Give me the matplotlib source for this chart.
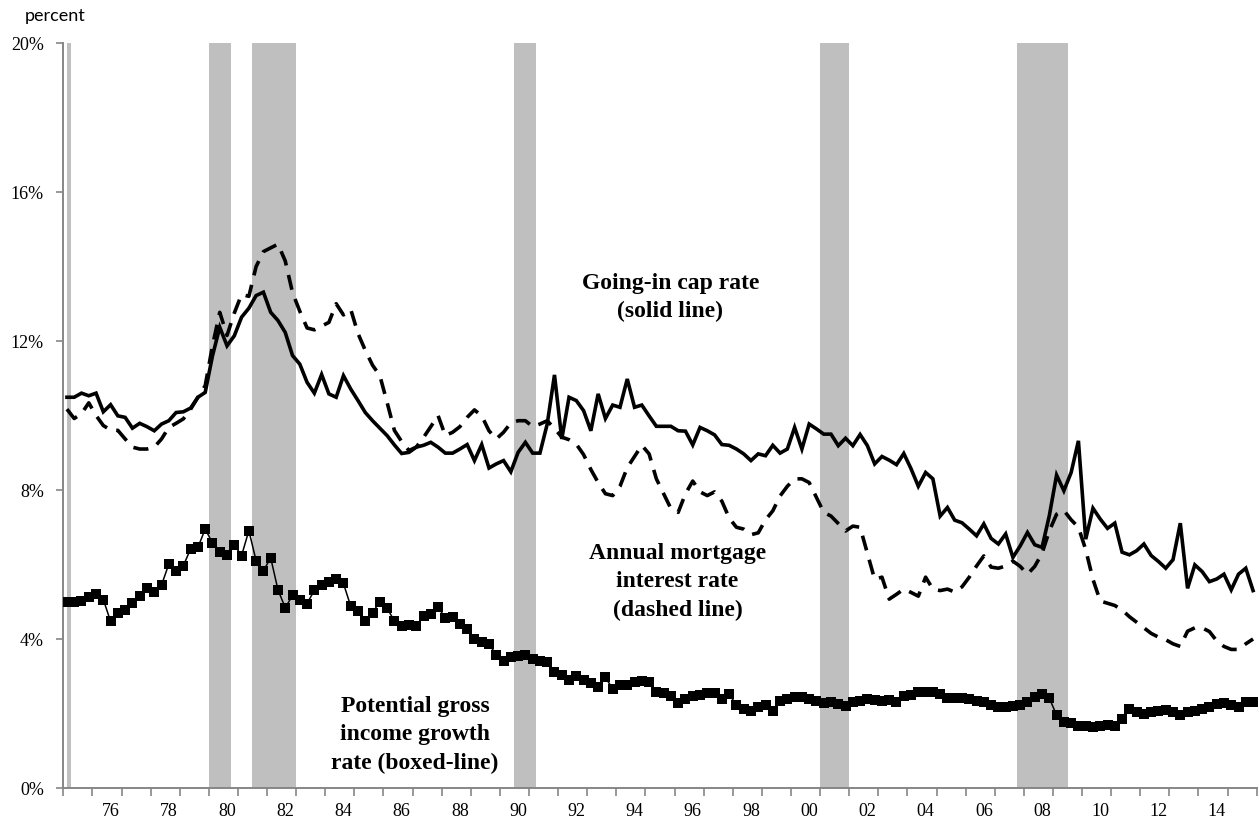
import numpy as np
import matplotlib
matplotlib.use("Agg")
import matplotlib.pyplot as plt

# quarterly series, first point = 1975Q1
start_year = 1975

cap_rate = [
    10.49, 10.49, 10.60, 10.53, 10.60, 10.10, 10.29, 9.99, 9.95, 9.66,
    9.79, 9.70, 9.59, 9.77, 9.86, 10.08, 10.10, 10.20, 10.49, 10.62,
    11.60, 12.37, 11.87, 12.14, 12.64, 12.88, 13.22, 13.31, 12.77, 12.55,
    12.23, 11.61, 11.38, 10.89, 10.60, 11.10, 10.58, 10.49, 11.07, 10.71,
    10.40, 10.08, 9.86, 9.66, 9.46, 9.21, 8.98, 9.01, 9.15, 9.20,
    9.28, 9.15, 8.99, 8.99, 9.10, 9.22, 8.79, 9.22, 8.59, 8.70,
    8.79, 8.49, 9.01, 9.28, 8.99, 8.99, 9.77, 11.09, 9.37, 10.49,
    10.40, 10.13, 9.59, 10.58, 9.92, 10.28, 10.22, 10.98, 10.22, 10.28,
    9.99, 9.71, 9.71, 9.71, 9.59, 9.58, 9.21, 9.68, 9.59, 9.48,
    9.22, 9.20, 9.10, 8.97, 8.79, 8.97, 8.92, 9.20, 8.99, 9.10,
    9.68, 9.10, 9.77, 9.64, 9.50, 9.50, 9.19, 9.39, 9.19, 9.49,
    9.19, 8.70, 8.90, 8.80, 8.68, 8.98, 8.57, 8.10, 8.47, 8.30,
    7.30, 7.53, 7.19, 7.12, 6.95, 6.77, 7.09, 6.70, 6.55, 6.82,
    6.19, 6.50, 6.86, 6.53, 6.46, 7.31, 8.40, 7.98, 8.47, 9.32,
    6.68, 7.51, 7.22, 6.97, 7.11, 6.33, 6.26, 6.37, 6.55, 6.24,
    6.08, 5.90, 6.13, 7.11, 5.36, 5.99, 5.81, 5.54, 5.61, 5.74,
    5.32, 5.74, 5.90, 5.30,
]

mortgage_rate = [
    10.17, 9.92, 10.05, 10.34, 10.00, 9.73, 9.61, 9.60, 9.37, 9.15,
    9.10, 9.10, 9.15, 9.37, 9.68, 9.79, 9.91, 10.17, 10.49, 10.80,
    11.87, 12.77, 12.15, 12.75, 13.25, 13.20, 14.00, 14.40, 14.50, 14.60,
    14.15, 13.30, 12.80, 12.35, 12.30, 12.40, 12.50, 13.00, 12.70, 12.85,
    12.20, 11.75, 11.35, 11.07, 10.35, 9.60, 9.30, 9.06, 9.15, 9.41,
    9.70, 10.00, 9.46, 9.55, 9.70, 9.95, 10.15, 9.99, 9.59, 9.37,
    9.55, 9.80, 9.86, 9.86, 9.70, 9.77, 9.86, 9.65, 9.42, 9.35,
    9.23, 8.95, 8.55, 8.20, 7.90, 7.85, 8.10, 8.60, 8.90, 9.20,
    8.97, 8.30, 7.90, 7.50, 7.40, 7.90, 8.24, 7.95, 7.85, 7.95,
    7.70, 7.25, 7.00, 6.95, 6.80, 6.85, 7.20, 7.44, 7.84, 8.10,
    8.30, 8.30, 8.20, 7.80, 7.40, 7.30, 7.10, 6.90, 7.03, 7.00,
    6.30, 5.60, 5.66, 5.07, 5.20, 5.34, 5.25, 5.15, 5.66, 5.34,
    5.30, 5.34, 5.26, 5.40, 5.66, 5.96, 6.23, 5.93, 5.90, 5.96,
    6.09, 5.95, 5.74, 5.95, 6.30, 6.90, 7.35, 7.45, 7.20, 7.00,
    6.40, 5.60, 5.02, 4.96, 4.90, 4.78, 4.60, 4.45, 4.30, 4.15,
    4.05, 3.98, 3.87, 3.80, 4.21, 4.30, 4.30, 4.20, 3.95, 3.80,
    3.72, 3.72, 3.87, 4.00,
]

pgi_growth = [
    5.00, 4.99, 5.03, 5.12, 5.21, 5.06, 4.47, 4.69, 4.79, 4.97,
    5.16, 5.37, 5.25, 5.45, 6.01, 5.83, 5.97, 6.42, 6.46, 6.95,
    6.58, 6.34, 6.26, 6.52, 6.24, 6.91, 6.10, 5.83, 6.18, 5.32,
    4.84, 5.17, 5.06, 4.95, 5.31, 5.46, 5.53, 5.61, 5.49, 4.88,
    4.74, 4.49, 4.71, 5.00, 4.82, 4.49, 4.36, 4.37, 4.36, 4.62,
    4.67, 4.85, 4.57, 4.60, 4.40, 4.27, 4.00, 3.91, 3.87, 3.57,
    3.42, 3.51, 3.54, 3.58, 3.46, 3.42, 3.39, 3.11, 3.03, 2.90,
    3.01, 2.90, 2.82, 2.72, 2.97, 2.66, 2.77, 2.77, 2.84, 2.86,
    2.84, 2.58, 2.54, 2.48, 2.28, 2.39, 2.48, 2.50, 2.55, 2.55,
    2.39, 2.52, 2.23, 2.12, 2.08, 2.17, 2.23, 2.08, 2.34, 2.39,
    2.43, 2.43, 2.39, 2.34, 2.29, 2.31, 2.26, 2.21, 2.31, 2.34,
    2.39, 2.37, 2.34, 2.37, 2.30, 2.46, 2.50, 2.59, 2.59, 2.59,
    2.52, 2.41, 2.41, 2.41, 2.39, 2.34, 2.30, 2.23, 2.17, 2.17,
    2.19, 2.23, 2.31, 2.43, 2.52, 2.41, 1.96, 1.78, 1.75, 1.67,
    1.66, 1.63, 1.67, 1.69, 1.67, 1.85, 2.12, 2.03, 1.99, 2.05,
    2.08, 2.10, 2.05, 1.96, 2.03, 2.08, 2.12, 2.17, 2.26, 2.28,
    2.23, 2.17, 2.30, 2.30,
]

# recession shading (start, end) in years
recessions = [(1975.12, 1975.25), (1980.0, 1980.75), (1981.5, 1983.0),
              (1990.5, 1991.25), (2001.0, 2002.0), (2007.75, 2009.5)]
label_years = list(range(1976, 2015, 2))
year_labels = [f"{y % 100:02d}" for y in label_years]
y_ticks = [0, 4, 8, 12, 16, 20]

SERIF = "Liberation Serif"
C_AX, C_REC = "#868686", "#BFBFBF"

t = start_year + (np.arange(len(cap_rate)) + 0.5) / 4

fig = plt.figure(figsize=(12.59, 8.2), dpi=100)
W, H = 1259, 820
ax = fig.add_axes([63.3 / W, 31 / H, (1256.7 - 63.3) / W, (789 - 44) / H])

for a, b in recessions:
    ax.axvspan(a, b, color=C_REC, lw=0, zorder=0)

ax.plot(t, mortgage_rate, color="black", lw=2.6, ls=(0, (4.2, 2.7)),
        dash_capstyle="butt", zorder=2)
ax.plot(t, cap_rate, color="black", lw=2.6, solid_joinstyle="miter", zorder=3)
ax.plot(t, pgi_growth, color="black", lw=1.1, marker="s", ms=7.3,
        markeredgewidth=0, zorder=4)

ax.set_xlim(start_year, start_year + 41)
ax.set_ylim(0, 20)

for s in ("top", "right"):
    ax.spines[s].set_visible(False)
for s in ("left", "bottom"):
    ax.spines[s].set_color(C_AX)
    ax.spines[s].set_linewidth(1.4)

ax.set_yticks(y_ticks)
ax.set_yticklabels([f"{v}%" for v in y_ticks], fontfamily=SERIF, fontsize=13)
ax.tick_params(axis="y", length=5, width=1.2, color=C_AX, pad=9)

ax.set_xticks(np.arange(start_year, start_year + 42))
ax.set_xticklabels([])
ax.set_xticks(np.array(label_years) + 0.625, minor=True)
ax.set_xticklabels(year_labels, minor=True, fontfamily=SERIF, fontsize=13)
ax.tick_params(axis="x", which="major", length=6, width=1.2, color=C_AX)
ax.tick_params(axis="x", which="minor", length=0, pad=10)

fig.text(25 / W, 1 - 16 / H, "percent", fontfamily="Lato", fontsize=13,
         ha="left", va="center")

lab = dict(fontfamily=SERIF, fontweight="bold", fontsize=17, ha="center",
           va="center", multialignment="center", linespacing=1.45)
ax.text(1995.85, 13.2, "Going-in cap rate\n(solid line)", **lab)
ax.text(1996.1, 5.56, "Annual mortgage\ninterest rate\n(dashed line)", **lab)
ax.text(1987.08, 1.45, "Potential gross\nincome growth\nrate (boxed-line)", **lab)

fig.savefig("out.png", dpi=100)
